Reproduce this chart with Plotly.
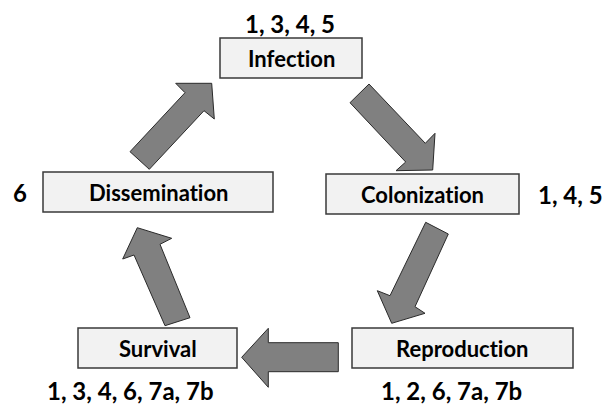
import plotly.graph_objects as go

# stages of the cycle and the study numbers attached to each
stages = ["Infection", "Colonization", "Reproduction", "Survival", "Dissemination"]
studies = ["1, 3, 4, 5", "1, 4, 5", "1, 2, 6, 7a, 7b", "1, 3, 4, 6, 7a, 7b", "6"]

# layout (pixel space, y down)
boxes = {
    "Infection": (220, 38, 362, 78),
    "Colonization": (326, 174, 519, 214),
    "Reproduction": (352, 328, 573, 368),
    "Survival": (78, 328, 237, 368),
    "Dissemination": (43, 172, 273, 212),
}
label_pos = {
    "Infection": (290, 23),
    "Colonization": (570, 194),
    "Reproduction": (451, 390),
    "Survival": (130, 390),
    "Dissemination": (20, 192),
}
arrows = [
    [(369, 84), (425.3, 143.3), (435, 133.3), (432.7, 170), (396, 170.7), (405.7, 162), (350, 102.7)],
    [(425.7, 222.3), (448.3, 234), (415, 306.7), (425, 313.3), (391.7, 323.3), (377.3, 290.7), (390, 295.7)],
    [(241.7, 357.3), (268.3, 328.3), (268.3, 342.7), (338.3, 342.7), (338.3, 371.7), (268.3, 371.7), (268.3, 387.3)],
    [(165, 325.7), (190, 317.7), (160, 244.3), (171.7, 238.3), (137.3, 227.7), (122.7, 259), (134, 255)],
    [(211.7, 83.3), (214.3, 119), (204, 110.7), (149.3, 169.3), (130, 151.7), (185, 92.7), (175.7, 83.3)],
]

FONT = "Lato, 'Open Sans', sans-serif"
BOX_SIZE = 22
LABEL_SIZE = 24


def no_lig(s):
    # keep the "ti" pair from turning into a ligature glyph
    return s.replace("ti", "t\u200ci")


fig = go.Figure()
shapes = []
annotations = []

for pts in arrows:
    path = "M " + " L ".join(f"{x},{y}" for x, y in pts) + " Z"
    shapes.append(dict(type="path", path=path, xref="x", yref="y",
                       fillcolor="#808080", line=dict(color="#2a2a2a", width=1)))

for name, cite in zip(stages, studies):
    x0, y0, x1, y1 = boxes[name]
    shapes.append(dict(type="rect", x0=x0, y0=y0, x1=x1, y1=y1, xref="x", yref="y",
                       fillcolor="#f2f2f2", line=dict(color="#3a3a3a", width=1.5)))
    annotations.append(dict(x=(x0 + x1) / 2, y=(y0 + y1) / 2, xref="x", yref="y",
                            text=f"<b>{no_lig(name)}</b>", showarrow=False,
                            font=dict(family=FONT, size=BOX_SIZE, color="#000")))
    lx, ly = label_pos[name]
    annotations.append(dict(x=lx, y=ly, xref="x", yref="y", text=f"<b>{cite}</b>",
                            showarrow=False, font=dict(family=FONT, size=LABEL_SIZE, color="#000")))

fig.add_trace(go.Scatter(x=[0, 610], y=[0, 406], mode="markers",
                         marker=dict(opacity=0), hoverinfo="skip", showlegend=False))

fig.update_layout(
    width=610, height=406,
    margin=dict(l=0, r=0, t=0, b=0),
    plot_bgcolor="white", paper_bgcolor="white",
    shapes=shapes, annotations=annotations,
    xaxis=dict(range=[0, 610], visible=False, fixedrange=True),
    yaxis=dict(range=[406, 0], visible=False, fixedrange=True),
)

fig.write_html("out.html", config={"displayModeBar": False},
               post_script="document.body.style.margin='0';")
